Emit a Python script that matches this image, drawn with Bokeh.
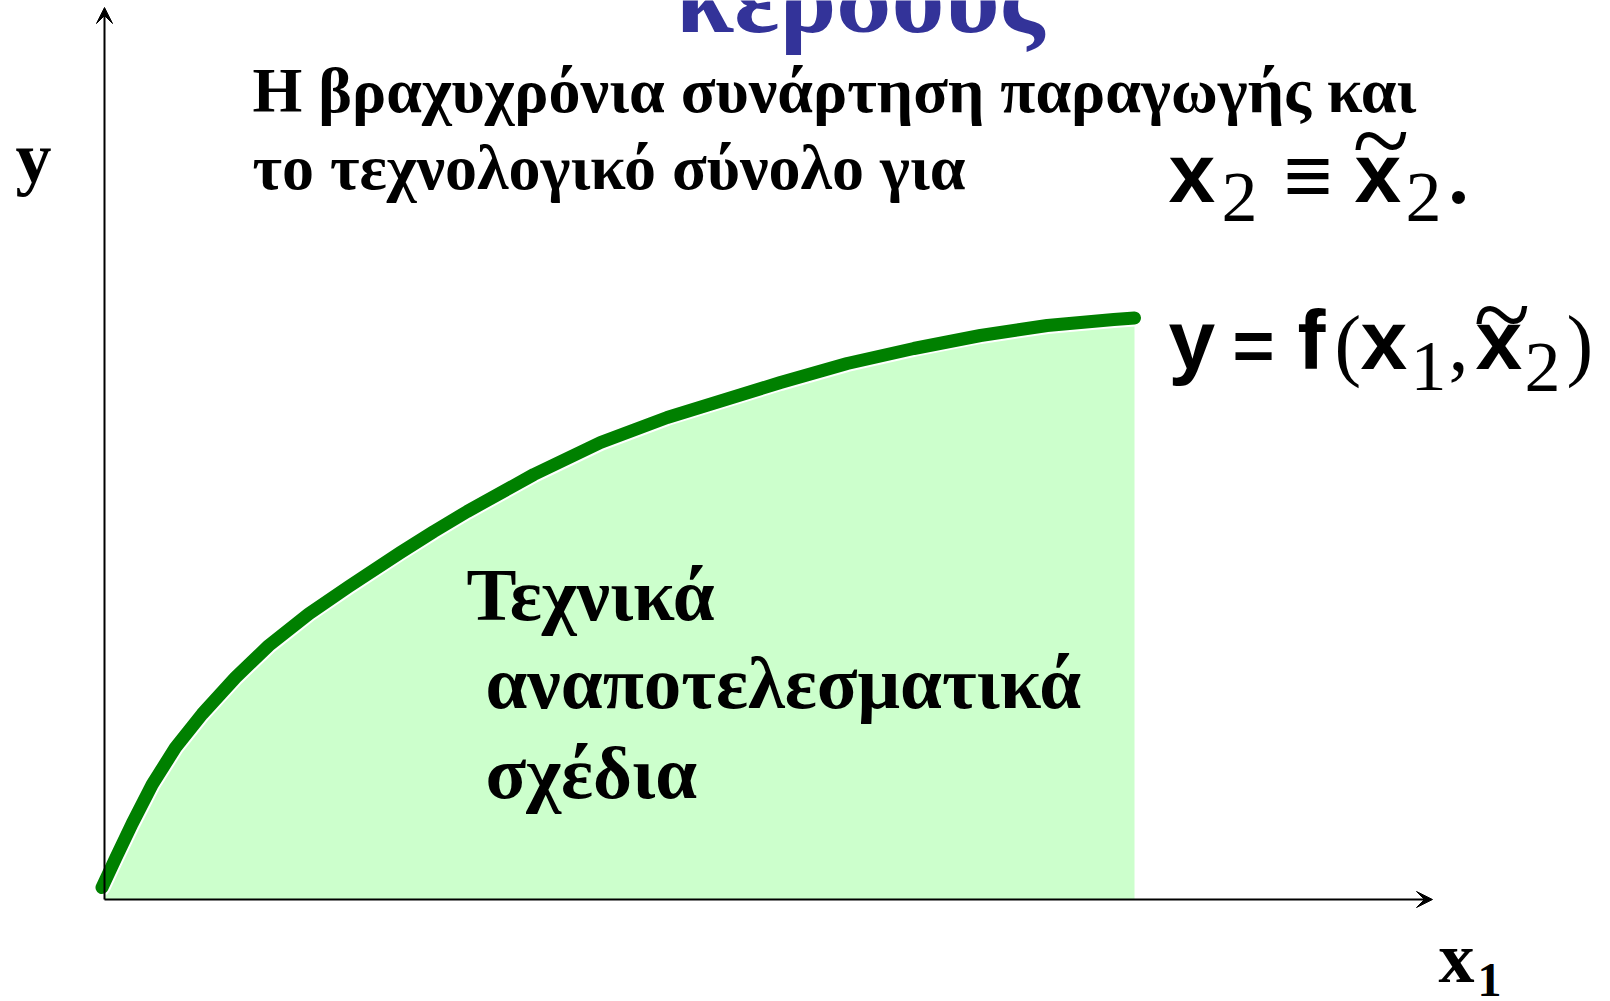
from bokeh.plotting import figure
from bokeh.models import Range1d, Arrow, VeeHead, Label
from bokeh.core.properties import value
from bokeh.embed import file_html
from bokeh.resources import INLINE

# Short-run production function y = f(x1, x2~): points along the curve
x1 = [-0.025, 0.11, 0.277, 0.477, 0.71, 0.977, 1.31, 1.643, 2.043, 2.443,
      2.96, 3.293, 3.627, 4.293, 4.96, 5.627, 6.76, 7.427, 8.093, 8.76,
      9.427, 10.093, 10.30]
y = [0.12, 0.41, 0.76, 1.15, 1.52, 1.855, 2.22, 2.54, 2.857, 3.13,
     3.47, 3.68, 3.88, 4.25, 4.57, 4.82, 5.17, 5.36, 5.51, 5.64,
     5.74, 5.80, 5.815]

x_axis_end = 13.28
y_axis_end = 8.92

title_tail = "κέρδους"
heading = ["Η βραχυχρόνια συνάρτηση παραγωγής και", "το τεχνολογικό σύνολο για"]
region_label = ["Τεχνικά", "αναποτελεσματικά", "σχέδια"]

W, H = 1610, 1001
OX, OY, S = 104, 899, 100.0   # origin pixel and pixels per unit
SHIFT = 0.36                  # baseline offset of the text box, in em

p = figure(width=W, height=H,
           x_range=Range1d(-OX / S, (W - OX) / S),
           y_range=Range1d((OY - H) / S, OY / S),
           x_axis_location=None, y_axis_location=None,
           output_backend="svg", toolbar_location=None,
           min_border=0)
p.grid.visible = False
p.outline_line_color = None

# technically inefficient set under the curve
fill_x = [0.0] + x1[1:]
fill_y = [0.0] + y[1:]
p.varea(x=fill_x, y1=[0.0] * len(fill_x), y2=fill_y, fill_color="#CCFFCC")
p.line(x1, y, line_color="white", line_width=17, line_cap="round", line_join="round")
p.line(x1, y, line_color="#008000", line_width=13, line_cap="round", line_join="round")

# axes with arrow heads
for xe, ye in [(0, y_axis_end), (x_axis_end, 0)]:
    p.add_layout(Arrow(end=VeeHead(size=16, fill_color="black", line_color="black"),
                       x_start=0, y_start=0, x_end=xe, y_end=ye,
                       line_color="black", line_width=2))

SERIF = "Liberation Serif"
SANS = "Liberation Sans"


def txt(items, size, font=SERIF, bold=True, color="black"):
    kw = dict(text_font=value(font), text_font_size=f"{size}px",
              text_color=color, text_baseline="alphabetic", text_align="left")
    if bold:
        kw["text_font_style"] = "bold"
    p.text(x=[(px - OX) / S for _, px, _ in items],
           y=[(OY - (py - SHIFT * size)) / S for _, _, py in items],
           text=[t for t, _, _ in items], **kw)


txt([(heading[0], 252, 113), (heading[1], 252, 190)], 64)
txt([(region_label[0], 466, 621), (region_label[1], 485, 709),
     (region_label[2], 485, 799)], 75)
txt([("y", 15, 183), ("x", 1438, 983)], 72)
txt([("1", 1477, 997)], 48)

# x2 ≡ x2~ .   and   y = f(x1, x2~)
txt([("x", 1168, 203), ("x", 1354, 203),
     ("y", 1168, 370), ("f", 1297, 370), ("x", 1360, 370), ("x", 1475, 370)],
    84, font=SANS)
txt([("=", 1232, 370)], 72, font=SANS)
txt([("≡", 1283, 205)], 84, font=SANS)
txt([("2", 1221, 223), ("2", 1405, 223), ("1", 1410, 392), ("2", 1524, 393)],
    72, bold=False)
txt([("(", 1334, 372), (",", 1448, 372), (")", 1566, 372)], 80, bold=False)
txt([(".", 1448, 205)], 80)
txt([("~", 1352, 178), ("~", 1473, 352)], 105, bold=False)

# heading tail, partly above the top edge
TSIZE = 106
p.add_layout(Label(x=(675 - OX) / S, y=(OY - (34 - SHIFT * TSIZE)) / S,
                   text=title_tail, text_font=SERIF, text_font_style="bold",
                   text_font_size=f"{TSIZE}px", text_color="#333399",
                   text_baseline="alphabetic", text_align="left"))

open("out.html", "w").write(file_html(p, INLINE))
